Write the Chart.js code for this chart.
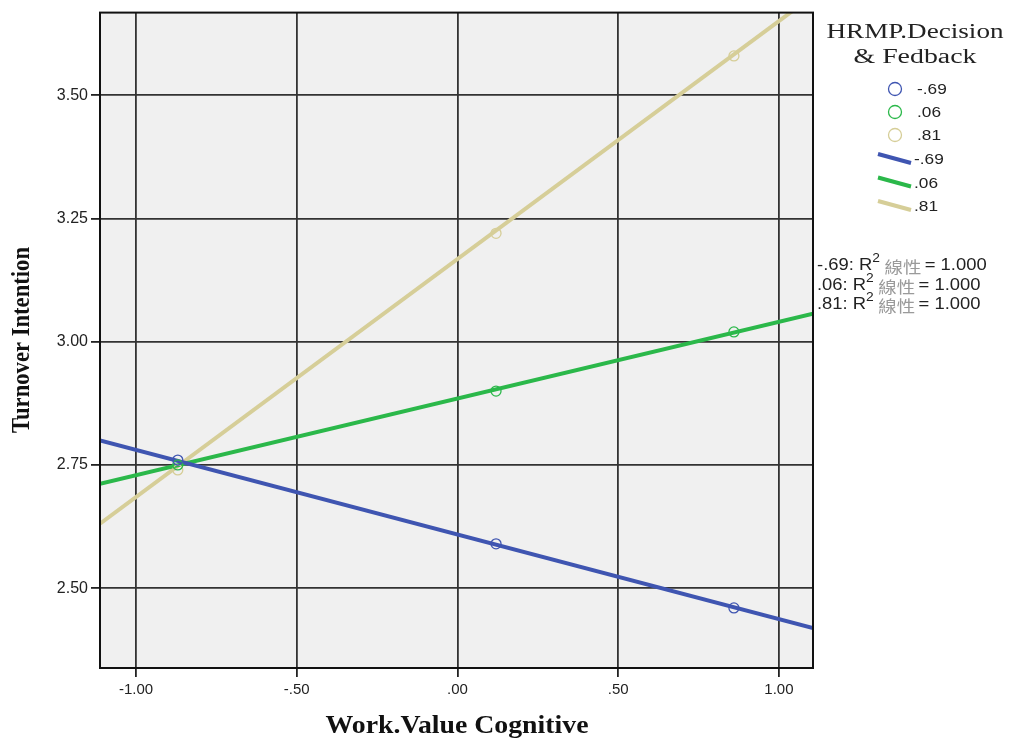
<!DOCTYPE html>
<html>
<head>
<meta charset="utf-8">
<script src="https://cdn.jsdelivr.net/npm/chart.js@4"></script>
<style>
  body { margin: 0; background: #fff; }
  canvas { display: block; }
</style>
</head>
<body>
<canvas id="c" width="1010" height="742"></canvas>
<script>
// x positions of the three group means (Work.Value Cognitive)
const xPoints = [-0.87, 0.12, 0.86];

const groups = ["-.69", ".06", ".81"];
const colors = ["#3f55b1", "#2bb84a", "#d6ce98"];

// observed means (Turnover Intention)
const meanLow = [2.76, 2.59, 2.46];
const meanMid = [2.75, 2.90, 3.02];
const meanHigh = [2.74, 3.22, 3.58];

// fit lines, read at the left and right plot edges
const xEdges = [-1.112, 1.106];
const fitLow = [2.80, 2.419];
const fitMid = [2.712, 3.057];
const fitHigh = [2.631, 3.702];

const xTicks = [-1, -0.5, 0, 0.5, 1];
const xTickLabels = ["-1.00", "-.50", ".00", ".50", "1.00"];
const yTicks = [2.5, 2.75, 3, 3.25, 3.5];
const yTickLabels = ["2.50", "2.75", "3.00", "3.25", "3.50"];

const means = [meanLow, meanMid, meanHigh];
const fits = [fitLow, fitMid, fitHigh];

const datasets = [];
means.forEach((m, i) => {
  datasets.push({
    label: groups[i],
    data: m.map((v, j) => ({ x: xPoints[j], y: v })),
    showLine: false,
    pointStyle: "circle",
    pointRadius: 5,
    pointBorderWidth: 1.3,
    pointBorderColor: colors[i],
    pointBackgroundColor: "rgba(0,0,0,0)",
    order: 1,
  });
});
fits.forEach((f, i) => {
  datasets.push({
    label: groups[i],
    data: f.map((v, j) => ({ x: xEdges[j], y: v })),
    showLine: true,
    borderColor: colors[i],
    borderWidth: 4,
    pointRadius: 0,
    order: 2,
  });
});

// draw text stretched to a given width
function fitText(ctx, text, x, y, width, align) {
  const w = ctx.measureText(text).width;
  const k = width / w;
  ctx.save();
  ctx.translate(x, y);
  ctx.scale(k, 1);
  ctx.textAlign = align || "center";
  ctx.fillText(text, 0, 0);
  ctx.restore();
}

const bgPlugin = {
  id: "bg",
  beforeDraw(chart) {
    const { ctx, chartArea: a } = chart;
    ctx.save();
    ctx.fillStyle = "#f0f0f0";
    ctx.fillRect(a.left, a.top, a.right - a.left, a.bottom - a.top);
    ctx.restore();
  },
};

const textPlugin = {
  id: "texts",
  afterDraw(chart) {
    const { ctx, chartArea: a } = chart;
    ctx.save();
    // frame
    ctx.strokeStyle = "#111";
    ctx.lineWidth = 2;
    ctx.strokeRect(a.left, a.top, a.right - a.left, a.bottom - a.top);

    // axis titles
    ctx.fillStyle = "#111";
    ctx.textBaseline = "middle";
    ctx.font = "bold 25px 'Liberation Serif'";
    fitText(ctx, "Work.Value Cognitive", 457, 727, 263);
    ctx.save();
    ctx.translate(23, 340);
    ctx.rotate(-Math.PI / 2);
    ctx.font = "bold 25px 'Liberation Serif'";
    fitText(ctx, "Turnover Intention", 0, 0, 186);
    ctx.restore();

    // legend
    ctx.font = "20px 'Liberation Serif'";
    ctx.fillStyle = "#222";
    fitText(ctx, "HRMP.Decision", 915, 33, 177);
    fitText(ctx, "& Fedback", 915, 58, 123);

    ctx.font = "15px 'Liberation Sans'";
    groups.forEach((g, i) => {
      const y = 89 + i * 23;
      ctx.beginPath();
      ctx.arc(895, y, 6.5, 0, Math.PI * 2);
      ctx.strokeStyle = colors[i];
      ctx.lineWidth = 1.3;
      ctx.stroke();
      ctx.fillStyle = "#222";
      fitText(ctx, g, 917, y + 1, ctx.measureText(g).width * 1.15, "left");
    });
    groups.forEach((g, i) => {
      const y = 159 + i * 23.5;
      ctx.beginPath();
      ctx.moveTo(878, y - 5);
      ctx.lineTo(911, y + 4);
      ctx.strokeStyle = colors[i];
      ctx.lineWidth = 4;
      ctx.stroke();
      ctx.fillStyle = "#222";
      fitText(ctx, g, 914, y + 1, ctx.measureText(g).width * 1.15, "left");
    });

    // R squared notes
    groups.forEach((g, i) => {
      const y = 266 + i * 19.5;
      ctx.save();
      ctx.translate(817, y);
      ctx.scale(1.15, 1);
      ctx.textAlign = "left";
      let x = 0;
      ctx.font = "16px 'Liberation Sans'";
      ctx.fillStyle = "#222";
      const s = g + ": R";
      ctx.fillText(s, x, 0);
      x += ctx.measureText(s).width;
      ctx.font = "12px 'Liberation Sans'";
      ctx.fillText("2", x, -7);
      x += ctx.measureText("2").width + 4;
      ctx.font = "16px 'Noto Sans CJK TC'";
      ctx.fillStyle = "#9a9a9a";
      ctx.fillText("線性", x, 1);
      x += ctx.measureText("線性").width + 3;
      ctx.font = "16px 'Liberation Sans'";
      ctx.fillStyle = "#222";
      ctx.fillText("= 1.000", x, 0);
      ctx.restore();
    });
    ctx.restore();
  },
};

new Chart(document.getElementById("c"), {
  type: "scatter",
  data: { datasets },
  plugins: [bgPlugin, textPlugin],
  options: {
    responsive: false,
    animation: false,
    layout: { padding: { left: 0, right: 197, top: 10, bottom: 0 } },
    plugins: { legend: { display: false }, tooltip: { enabled: false } },
    scales: {
      x: {
        type: "linear",
        min: xEdges[0],
        max: xEdges[1],
        afterBuildTicks(s) {
          s.ticks = xTicks.map((v) => ({ value: v }));
        },
        afterFit(s) {
          s.height = 74;
        },
        ticks: {
          color: "#222",
          font: { family: "'Liberation Sans'", size: 15 },
          padding: 4,
          callback: (v) => xTickLabels[xTicks.indexOf(v)],
        },
        grid: { color: "#333", lineWidth: 1.8, tickLength: 9, tickColor: "#222" },
        border: { color: "#111", width: 2 },
      },
      y: {
        type: "linear",
        min: 2.338,
        max: 3.668,
        afterBuildTicks(s) {
          s.ticks = yTicks.map((v) => ({ value: v }));
        },
        afterFit(s) {
          s.width = 100;
        },
        ticks: {
          color: "#222",
          font: { family: "'Liberation Sans'", size: 16 },
          padding: 3,
          callback: (v) => yTickLabels[yTicks.indexOf(v)],
        },
        grid: { color: "#333", lineWidth: 1.8, tickLength: 9, tickColor: "#222" },
        border: { color: "#111", width: 2 },
      },
    },
  },
});
</script>
</body>
</html>
